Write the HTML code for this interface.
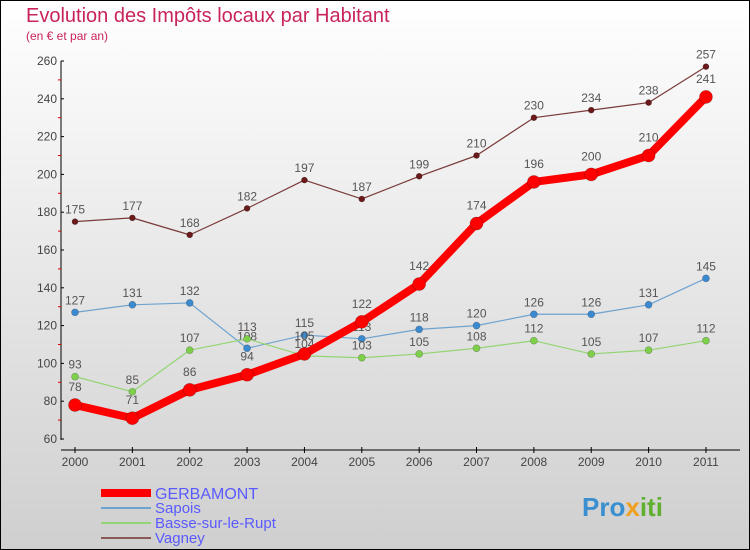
<!DOCTYPE html>
<html><head><meta charset="utf-8"><style>
body{margin:0;width:750px;height:550px;overflow:hidden;font-family:"Liberation Sans",sans-serif}
svg{display:block}
</style></head><body>
<svg id="chart" width="750" height="550">
<defs><linearGradient id="bg" x1="0" y1="0" x2="0" y2="1"><stop offset="0" stop-color="#ffffff"/><stop offset="1" stop-color="#cfcfcf"/></linearGradient></defs>
<rect x="0.5" y="0.5" width="749" height="549" fill="url(#bg)" stroke="#000"/>
<text x="26" y="22" font-size="20" fill="#c8245a">Evolution des Impôts locaux par Habitant</text>
<text x="26" y="40" font-size="12" fill="#c8245a">(en € et par an)</text>
<g id="axes"></g><g id="series"></g>
<g>
<line x1="101" y1="493" x2="151" y2="493" stroke="#f00" stroke-width="8"/>
<text x="155" y="499" font-size="16" fill="#5a5aff">GERBAMONT</text>
<line x1="101" y1="508" x2="151" y2="508" stroke="#6fa3cf" stroke-width="2"/>
<text x="155" y="513" font-size="15" fill="#5a5aff">Sapois</text>
<line x1="101" y1="523" x2="151" y2="523" stroke="#93d572" stroke-width="2"/>
<text x="155" y="528" font-size="15" fill="#5a5aff">Basse-sur-le-Rupt</text>
<line x1="101" y1="538" x2="151" y2="538" stroke="#8a5a5a" stroke-width="2"/>
<text x="155" y="543" font-size="15" fill="#5a5aff">Vagney</text>
</g>
<text x="582" y="516" font-size="26" font-weight="bold" fill="#3a8fd0">Pro<tspan fill="#f0a020">x</tspan><tspan fill="#60b030">iti</tspan></text>
</svg>
<script>
const years=[2000,2001,2002,2003,2004,2005,2006,2007,2008,2009,2010,2011];
const gerbamont=[78,71,86,94,105,122,142,174,196,200,210,241];
const sapois=[127,131,132,108,115,113,118,120,126,126,131,145];
const basse=[93,85,107,113,104,103,105,108,112,105,107,112];
const vagney=[175,177,168,182,197,187,199,210,230,234,238,257];
const yTicks=[60,80,100,120,140,160,180,200,220,240,260];
const NS="http://www.w3.org/2000/svg";
const X=i=>75+i*57.36, Y=v=>439-(v-60)*1.89;
function mk(p,t,a){const e=document.createElementNS(NS,t);for(const k in a)e.setAttribute(k,a[k]);p.appendChild(e);return e;}
const ax=document.getElementById('axes');
const yl=mk(ax,'line',{x1:61,y1:61,x2:61,y2:440,stroke:'#000','stroke-width':1});


const xl=mk(ax,'line',{x1:61,y1:450,x2:740,y2:450,stroke:'#000','stroke-width':1});


yTicks.forEach((v,i)=>{
 mk(ax,'line',{x1:61,y1:Y(v),x2:64,y2:Y(v),stroke:'#000'});
 if(i<yTicks.length-1)mk(ax,'line',{x1:58,y1:Y(v+10),x2:61,y2:Y(v+10),stroke:'#d00'});
 const t=mk(ax,'text',{x:57,y:Y(v)+4,'font-size':12,fill:'#444','text-anchor':'end'});t.textContent=v;
 
 
});
years.forEach((y,i)=>{
 mk(ax,'line',{x1:X(i),y1:447,x2:X(i),y2:453,stroke:'#000'});
 const t=mk(ax,'text',{x:X(i),y:466,'font-size':12,fill:'#444','text-anchor':'middle'});t.textContent=y;
 
 
});
const sg=document.getElementById('series');
function series(data,color,w,r,dot,name,off){
 const g=mk(sg,'g',{});
 
 
 mk(g,'polyline',{points:data.map((v,i)=>X(i)+','+Y(v)).join(' '),fill:'none',stroke:color,'stroke-width':w,'stroke-linejoin':'round'});
 data.forEach((v,i)=>{
  const c=mk(g,'circle',{cx:X(i),cy:Y(v),r:r,fill:dot,stroke:'rgba(0,0,0,0.3)','stroke-width':0.6});
  
  
  const t=mk(g,'text',{x:X(i),y:Y(v)-off,'font-size':12,fill:'#555','text-anchor':'middle'});t.textContent=v;
 });
}
series(vagney,'#7a3a3a',1.2,3,'#6a1a1a','series-vagney',8);
series(sapois,'#6fa3cf',1.2,3.5,'#3b8ad0','series-sapois',8);
series(basse,'#93d572',1.2,3.5,'#7ed04a','series-basse',8);
series(gerbamont,'#f00',8,6.5,'#f00','series-gerbamont',14);
</script>
</body></html>
